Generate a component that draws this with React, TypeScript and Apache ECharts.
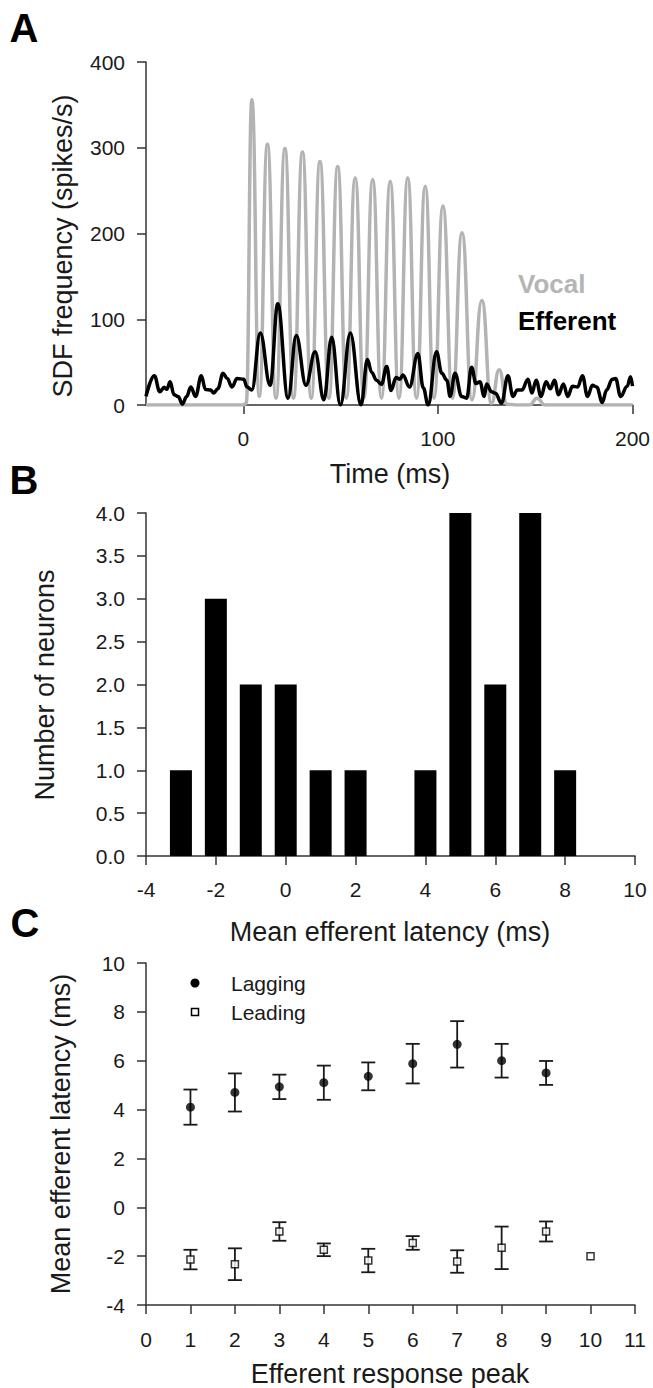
import React, { useEffect, useRef } from 'react';
import * as echarts from 'echarts';

const FONT = '"Liberation Sans", Arial, Helvetica, sans-serif';

// ---------- Panel A: SDF traces (time ms, spikes/s) ----------
const vocalTrace: [number, number][] = [
  [-50, 0], [0, 0], [1.5, 2], [4.4, 356], [8.2, 10], [12.4, 304], [16.8, 8], [21.4, 299],
  [25.8, 8], [30.4, 295], [34.9, 8], [39.4, 284], [44, 8], [48.5, 278], [53, 8], [57.5, 265],
  [62, 8], [66.5, 263], [71, 8], [75.5, 261], [80, 8], [84.5, 265], [89, 8], [93.5, 255],
  [98, 8], [102.6, 232], [107.5, 8], [112.4, 201], [117.5, 6], [122.6, 122], [127.5, 2],
  [131.5, 41], [135.5, 1], [140, 0], [147, 0], [151, 8], [155, 0], [200, 0],
];
const efferentTrace: [number, number][] = [
  [-50, 10], [-45.7, 34], [-42.9, 15.5], [-40.6, 20.6], [-39.3, 18.3], [-37.6, 27], [-35.6, 12],
  [-33.5, 10], [-31.3, 1], [-29.1, 10], [-27, 21], [-24.5, 10], [-21.6, 34], [-19.4, 18],
  [-16.8, 17.5], [-15.2, 14], [-13.1, 19], [-10.4, 37], [-8.3, 31], [-5.8, 21], [-3.2, 31],
  [0.2, 30], [1.9, 21], [4.4, 17.5], [8.7, 84], [13.8, 23], [17.7, 118], [23, 8], [27.2, 81],
  [32.2, 23], [36.9, 62], [41.4, 6], [45.4, 79], [49.9, 0], [55, 84], [60.5, 0], [63.8, 53],
  [66, 38], [68.4, 29], [71, 24], [73.7, 45], [75.9, 17], [78.5, 32], [80.5, 30], [82, 35],
  [85.4, 21], [89.7, 60], [92.5, 20], [95, 0], [99.3, 62], [102, 37], [104.6, 29], [106.3, 10],
  [108.8, 37], [112.2, 10], [114.8, 8], [117.3, 44], [119.6, 25], [121.6, 27], [123.8, 10],
  [125, 24.5], [127.6, 15.5], [129.6, 13.6], [132.7, 2], [136, 34], [138.6, 10], [140.8, 17.5],
  [143.2, 17.5], [146.3, 30], [148.3, 14], [150.5, 29], [153, 10], [155.6, 27], [157.8, 19],
  [159.9, 29], [162, 12], [164.5, 24.5], [166.7, 10], [169.2, 22], [171.8, 21], [174.3, 34],
  [176.9, 10], [179.4, 23], [181.6, 21], [184.5, 3], [186.7, 17.5], [189.6, 30], [191.3, 31],
  [193.9, 10], [197.3, 22], [199, 33], [200, 22],
];
const timeTicks = [0, 100, 200];

// ---------- Panel B: histogram ----------
const latencyBins = [-3, -2, -1, 0, 1, 2, 3, 4, 5, 6, 7, 8];
const neuronCounts = [1, 3, 2, 2, 1, 1, 0, 1, 4, 2, 4, 1];

// ---------- Panel C: mean latency per peak ----------
const laggingPeaks = [1, 2, 3, 4, 5, 6, 7, 8, 9];
const laggingMean = [4.1, 4.7, 4.93, 5.1, 5.36, 5.88, 6.67, 6.0, 5.5];
const laggingErr = [0.72, 0.78, 0.5, 0.7, 0.57, 0.81, 0.95, 0.69, 0.49];
const leadingPeaks = [1, 2, 3, 4, 5, 6, 7, 8, 9, 10];
const leadingMean = [-2.14, -2.33, -0.99, -1.74, -2.18, -1.46, -2.22, -1.66, -0.99, -2.0];
const leadingErr = [0.4, 0.65, 0.38, 0.26, 0.48, 0.28, 0.46, 0.87, 0.41, 0];

const AX = '#333';
const lineStyle = { color: AX, width: 1.5 };
const tick = { show: true, inside: false, length: 9, lineStyle: { color: AX, width: 1.5 } };
const lab = { color: '#1a1a1a', fontSize: 21, fontFamily: FONT, showMinLabel: true, showMaxLabel: true };

function errorBarSeries(xs: number[], means: number[], errs: number[], yi: number, name: string) {
  return {
    type: 'custom',
    name,
    xAxisIndex: yi,
    yAxisIndex: yi,
    z: 3,
    data: xs.map((x, i) => [x, means[i] - errs[i], means[i] + errs[i]]).filter((d, i) => errs[i] > 0),
    encode: { x: 0, y: [1, 2] },
    renderItem: (params: any, api: any) => {
      const x = api.value(0);
      const lo = api.coord([x, api.value(1)]);
      const hi = api.coord([x, api.value(2)]);
      const hw = 7;
      const st = { stroke: '#1a1a1a', lineWidth: 1.8 };
      return {
        type: 'group',
        children: [
          { type: 'line', shape: { x1: lo[0], y1: lo[1], x2: hi[0], y2: hi[1] }, style: st },
          { type: 'line', shape: { x1: lo[0] - hw, y1: lo[1], x2: lo[0] + hw, y2: lo[1] }, style: st },
          { type: 'line', shape: { x1: hi[0] - hw, y1: hi[1], x2: hi[0] + hw, y2: hi[1] }, style: st },
        ],
      };
    },
  };
}

function txt(text: string, x: number, y: number, opts: any = {}) {
  const align = opts.align || 'center';
  return {
    type: 'text',
    x,
    y,
    rotation: opts.rotation || 0,
    z: 10,
    style: {
      text,
      fill: opts.fill || '#1a1a1a',
      fontSize: opts.size || 27,
      fontWeight: opts.weight || 'normal',
      fontFamily: FONT,
      textAlign: align,
      textVerticalAlign: 'middle',
      align,
      verticalAlign: 'middle',
    },
  };
}

const option: any = {
  animation: false,
  backgroundColor: '#fff',
  grid: [
    { left: 146, top: 62, width: 489, height: 343 },
    { left: 146, top: 513, width: 489, height: 343 },
    { left: 146, top: 963, width: 489, height: 342 },
  ],
  xAxis: [
    {
      gridIndex: 0, type: 'value', min: -50, max: 200, interval: 50,
      axisLine: { show: true, onZero: false, lineStyle },
      axisTick: { ...tick, customValues: timeTicks },
      axisLabel: { ...lab, margin: 23, customValues: timeTicks },
      splitLine: { show: false },
    },
    {
      gridIndex: 1, type: 'value', min: -4, max: 10, interval: 2,
      axisLine: { show: true, onZero: false, lineStyle },
      axisTick: tick,
      axisLabel: { ...lab, margin: 23 },
      splitLine: { show: false },
    },
    {
      gridIndex: 2, type: 'value', min: 0, max: 11, interval: 1,
      axisLine: { show: true, onZero: false, lineStyle },
      axisTick: tick,
      axisLabel: { ...lab, margin: 24 },
      splitLine: { show: false },
    },
  ],
  yAxis: [
    {
      gridIndex: 0, type: 'value', min: 0, max: 400, interval: 100,
      axisLine: { show: true, onZero: false, lineStyle },
      axisTick: tick,
      axisLabel: { ...lab, margin: 21 },
      splitLine: { show: false },
    },
    {
      gridIndex: 1, type: 'value', min: 0, max: 4, interval: 0.5,
      axisLine: { show: true, onZero: false, lineStyle },
      axisTick: tick,
      axisLabel: { ...lab, margin: 21, formatter: (v: number) => v.toFixed(1) },
      splitLine: { show: false },
    },
    {
      gridIndex: 2, type: 'value', min: -4, max: 10, interval: 2,
      axisLine: { show: true, onZero: false, lineStyle },
      axisTick: tick,
      axisLabel: { ...lab, margin: 21 },
      splitLine: { show: false },
    },
  ],
  series: [
    {
      name: 'Vocal', type: 'line', xAxisIndex: 0, yAxisIndex: 0, data: vocalTrace,
      symbol: 'none', smooth: 0.5, smoothMonotone: 'x', z: 2,
      lineStyle: { color: '#b3b3b3', width: 3.5 },
    },
    {
      name: 'Efferent', type: 'line', xAxisIndex: 0, yAxisIndex: 0, data: efferentTrace,
      symbol: 'none', smooth: 0.4, smoothMonotone: 'x', z: 3,
      lineStyle: { color: '#000', width: 3.5 },
    },
    {
      name: 'Neurons', type: 'bar', xAxisIndex: 1, yAxisIndex: 1,
      data: latencyBins.map((b, i) => [b, neuronCounts[i]]),
      barWidth: 22, itemStyle: { color: '#000' },
    },
    errorBarSeries(laggingPeaks, laggingMean, laggingErr, 2, 'Lagging error'),
    errorBarSeries(leadingPeaks, leadingMean, leadingErr, 2, 'Leading error'),
    {
      name: 'Lagging', type: 'scatter', xAxisIndex: 2, yAxisIndex: 2, z: 5,
      data: laggingPeaks.map((p, i) => [p, laggingMean[i]]),
      symbol: 'circle', symbolSize: 9, itemStyle: { color: '#000' },
    },
    {
      name: 'Leading', type: 'scatter', xAxisIndex: 2, yAxisIndex: 2, z: 5,
      data: leadingPeaks.map((p, i) => [p, leadingMean[i]]),
      symbol: 'rect', symbolSize: 7,
      itemStyle: { color: '#fff', borderColor: '#000', borderWidth: 1.5 },
    },
  ],
  graphic: [
    txt('A', 24, 28, { size: 40, weight: 'bold', fill: '#000' }),
    txt('B', 24, 480, { size: 40, weight: 'bold', fill: '#000' }),
    txt('C', 25, 923, { size: 40, weight: 'bold', fill: '#000' }),
    txt('SDF frequency (spikes/s)', 63, 246, { rotation: Math.PI / 2 }),
    txt('Time (ms)', 390, 474),
    txt('Vocal', 518, 284, { align: 'left', size: 26, weight: 'bold', fill: '#b5b5b5' }),
    txt('Efferent', 518, 320.5, { align: 'left', size: 26, weight: 'bold', fill: '#000' }),
    txt('Number of neurons', 45, 685, { rotation: Math.PI / 2 }),
    txt('Mean efferent latency (ms)', 390, 932),
    txt('Mean efferent latency (ms)', 61, 1134, { rotation: Math.PI / 2 }),
    txt('Efferent response peak', 390, 1374),
    { type: 'circle', z: 10, shape: { cx: 195, cy: 983, r: 4.5 }, style: { fill: '#000' } },
    { type: 'rect', z: 10, shape: { x: 191.5, y: 1008.5, width: 7, height: 7 }, style: { fill: '#fff', stroke: '#000', lineWidth: 1.5 } },
    txt('Lagging', 231, 983, { align: 'left', size: 21 }),
    txt('Leading', 231, 1012, { align: 'left', size: 21 }),
  ],
};

export default function App() {
  const ref = useRef<HTMLDivElement>(null);
  useEffect(() => {
    if (!ref.current) return;
    const chart = echarts.init(ref.current, null, { renderer: 'svg' });
    chart.setOption(option);
    return () => chart.dispose();
  }, []);
  return (
    <div
      ref={ref}
      style={{ position: 'absolute', left: 0, top: 0, width: 653, height: 1388, background: '#fff' }}
    />
  );
}
